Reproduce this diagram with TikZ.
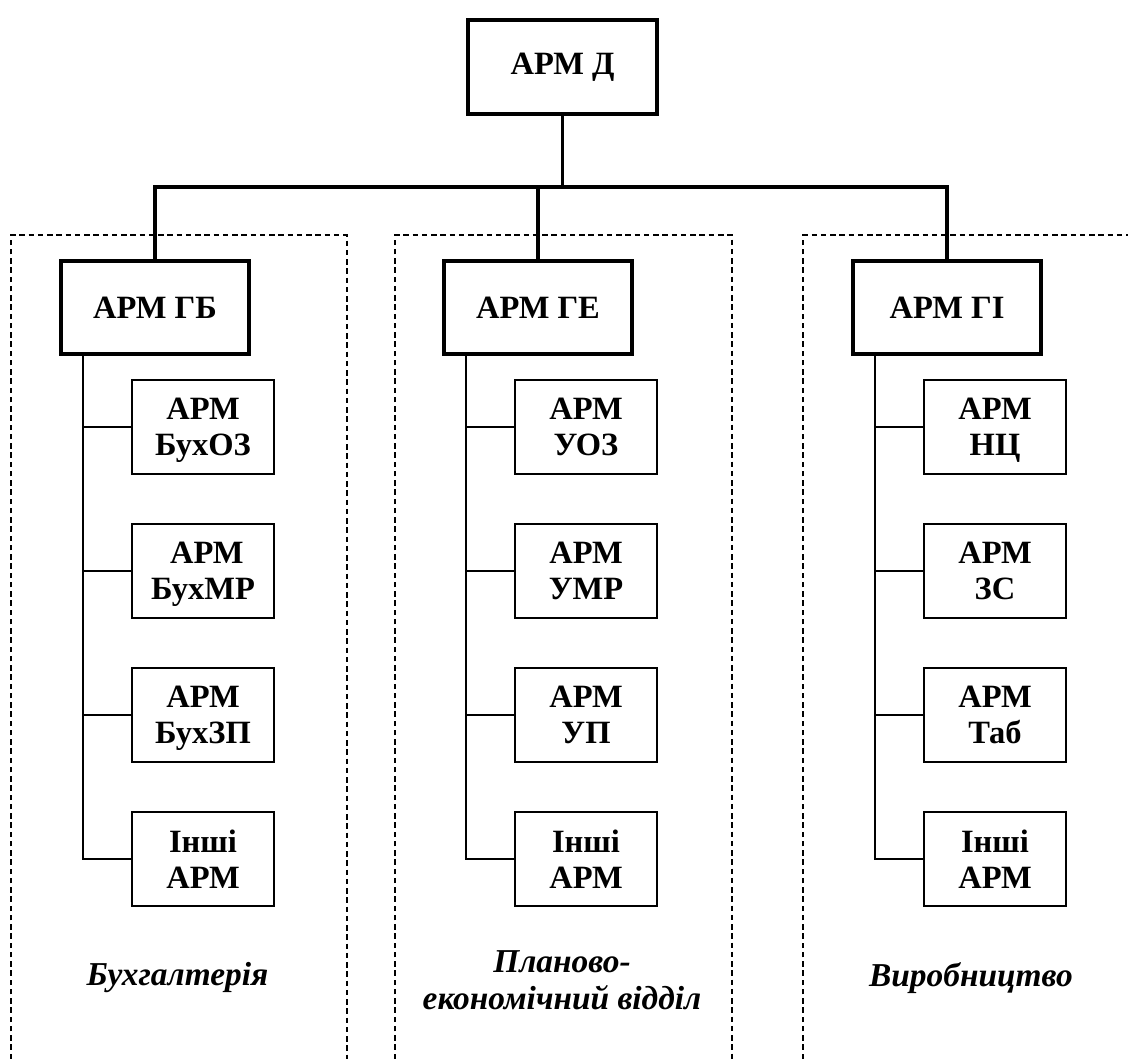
\documentclass[tikz,border=0pt]{standalone}
\usepackage{fontspec}
\setmainfont{Liberation Serif}
\usetikzlibrary{calc}
\tikzset{
   headbox/.style = {rectangle, draw, line width=0.8mm, minimum width=37.7mm,
                     minimum height=18.7mm, font=\bfseries\fontsize{18.5}{20}\selectfont},
   subbox/.style  = {rectangle, draw, line width=0.4mm, minimum width=28.4mm,
                     minimum height=18.8mm, align=center, inner sep=0pt, text depth=0pt,
                     font=\bfseries\fontsize{18.5}{20.2}\selectfont},
   dept/.style    = {align=center, font=\bfseries\itshape\fontsize{19}{21}\selectfont},
   bus/.style     = {line width=0.7mm},
   trunk/.style   = {line width=0.35mm},
   frame/.style   = {line width=0.28mm, dash pattern=on 1.1mm off 0.75mm},
}

\begin{document}
\begin{tikzpicture}

      \useasboundingbox (0mm,0mm) rectangle (225.6mm,-211.8mm);

      % dashed frames of the departments
      \draw[frame] (2.2mm,-211.8mm)  |- (69.4mm,-47mm)  -- (69.4mm,-211.8mm);
      \draw[frame] (79mm,-211.8mm)   |- (146.4mm,-47mm) -- (146.4mm,-211.8mm);
      \draw[frame] (160.6mm,-211.8mm) |- (225.6mm,-47mm);

      \node[headbox] (d)  at (112.5mm,-13.4mm) {АРМ Д};

      \node[headbox] (gb) at (31mm,-61.5mm)    {АРМ ГБ};
      \node[headbox] (ge) at (107.6mm,-61.5mm) {АРМ ГЕ};
      \node[headbox] (gi) at (189.4mm,-61.5mm) {АРМ ГІ};

      \node[subbox] (gb1) at (40.6mm,-85.4mm)  {АРМ\\БухОЗ};
      \node[subbox] (gb2) at (40.6mm,-114.2mm) {\hspace*{1.5mm}АРМ\\БухМР};
      \node[subbox] (gb3) at (40.6mm,-143mm)   {АРМ\\БухЗП};
      \node[subbox] (gb4) at (40.6mm,-171.8mm) {Інші\\АРМ};

      \node[subbox] (ge1) at (117.2mm,-85.4mm)  {АРМ\\УОЗ};
      \node[subbox] (ge2) at (117.2mm,-114.2mm) {АРМ\\УМР};
      \node[subbox] (ge3) at (117.2mm,-143mm)   {АРМ\\УП};
      \node[subbox] (ge4) at (117.2mm,-171.8mm) {Інші\\АРМ};

      \node[subbox] (gi1) at (199mm,-85.4mm)  {АРМ\\НЦ};
      \node[subbox] (gi2) at (199mm,-114.2mm) {АРМ\\ЗС};
      \node[subbox] (gi3) at (199mm,-143mm)   {АРМ\\Таб};
      \node[subbox] (gi4) at (199mm,-171.8mm) {Інші\\АРМ};

      \node[dept] (acc)  at (35.5mm,-195.6mm)  {Бухгалтерія};
      \node[dept] (plan) at (112.4mm,-196mm)   {Планово-\\економічний відділ};
      \node[dept] (prod) at (194.2mm,-195.6mm) {Виробництво};

      % top level links
      \coordinate (bus) at (112.5mm,-37.4mm);
      \draw[bus] (d.south)  -- (bus);
      \draw[bus] (gb.north) |- (bus) -| (gi.north);
      \draw[bus] (ge.north) -- (ge.north |- bus);

      % trunks to the workplaces
      \coordinate (gbt) at ([xshift=4.8mm]gb.south west);
      \coordinate (get) at ([xshift=4.8mm]ge.south west);
      \coordinate (git) at ([xshift=4.8mm]gi.south west);

      \draw[trunk] (gbt) |- (gb4.west);
      \draw[trunk] (gb1.west) -- (gb1.west -| gbt);
      \draw[trunk] (gb2.west) -- (gb2.west -| gbt);
      \draw[trunk] (gb3.west) -- (gb3.west -| gbt);

      \draw[trunk] (get) |- (ge4.west);
      \draw[trunk] (ge1.west) -- (ge1.west -| get);
      \draw[trunk] (ge2.west) -- (ge2.west -| get);
      \draw[trunk] (ge3.west) -- (ge3.west -| get);

      \draw[trunk] (git) |- (gi4.west);
      \draw[trunk] (gi1.west) -- (gi1.west -| git);
      \draw[trunk] (gi2.west) -- (gi2.west -| git);
      \draw[trunk] (gi3.west) -- (gi3.west -| git);

\end{tikzpicture}
\end{document}
